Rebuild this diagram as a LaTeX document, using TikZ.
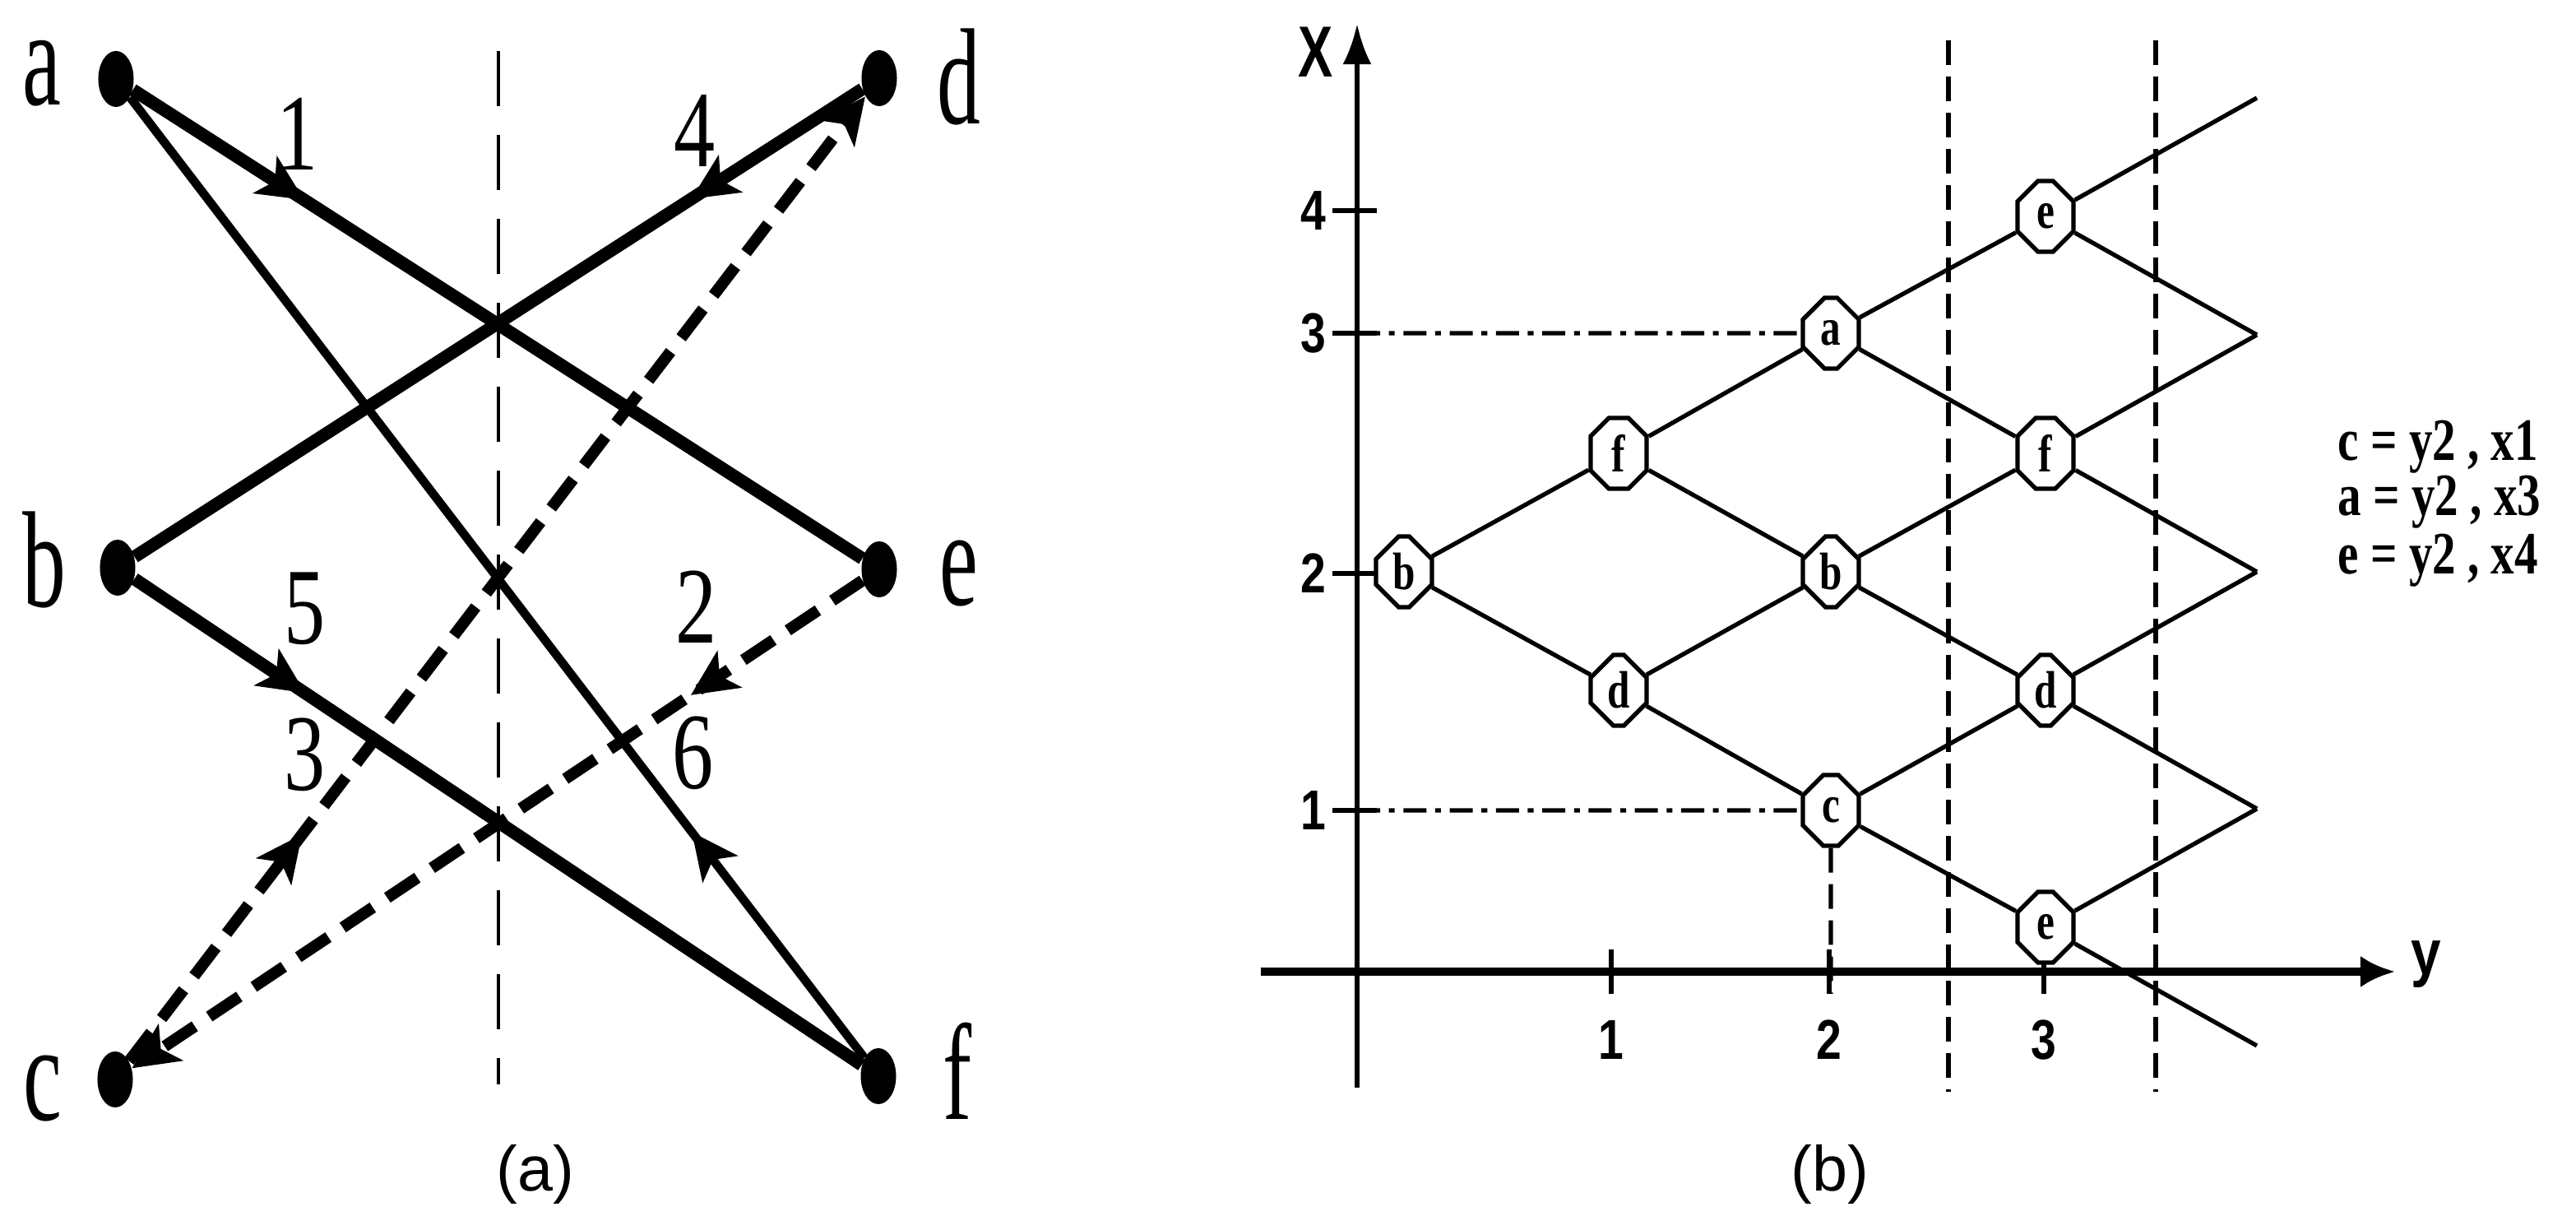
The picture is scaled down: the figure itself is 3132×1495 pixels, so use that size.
\documentclass[tikz,border=0pt]{standalone}
\usepackage{fontspec}
\setmainfont{Liberation Serif}
\newfontfamily\sansfam{Liberation Sans}
\usetikzlibrary{arrows.meta,shapes.geometric,shapes.misc,decorations.markings}
\newcommand\vstretch[2]{\scalebox{1}[#1]{#2}}
\begin{document}
\begin{tikzpicture}[x=0.01cm,y=-0.01cm,
  dot/.style={ellipse,fill=black,inner sep=0pt,minimum width=0.43cm,minimum height=0.68cm},
  letlbl/.style={inner sep=0pt,font=\fontsize{30}{30}\selectfont},
  numlbl/.style={inner sep=0pt,font=\fontsize{28.5}{28.5}\selectfont},
  midarrow/.style={postaction={decorate},decoration={markings,mark=at position #1 with {\arrow{Stealth[length=16pt,width=15pt,inset=4pt]}}}},
  thickedge/.style={line width=4.4pt},
  thinedge/.style={line width=3pt},
  dashedge/.style={line width=4pt,dash pattern=on 12.5pt off 6pt},
  vdash/.style={line width=1.4pt,dash pattern=on 19pt off 10pt},
  cn/.style={draw,line width=1.5pt,fill=white,chamfered rectangle,chamfered rectangle xsep=0.14cm,chamfered rectangle ysep=0.14cm,minimum width=0.68cm,minimum height=0.86cm,inner sep=0pt,font=\bfseries\fontsize{14}{14}\selectfont},
  lattice/.style={line width=1.5pt},
  vdashb/.style={line width=1.5pt,dash pattern=on 8.5pt off 4pt},
  dashdot/.style={line width=1.5pt,dash pattern=on 8pt off 3pt on 2pt off 3pt},
  ticklbl/.style={inner sep=0pt,font=\sansfam\bfseries\fontsize{18.5}{18.5}\selectfont},
  captxt/.style={inner sep=0pt,font=\sansfam\fontsize{22}{22}\selectfont},
  eqlbl/.style={inner sep=0pt,anchor=base west,font=\bfseries\fontsize{20.8}{20.8}\selectfont}
]
\useasboundingbox (0,0) rectangle (3132,1495);
\fill[white] (0,0) rectangle (3132,1495);

% ---------- panel (a) ----------
\coordinate (vtop) at (606,62);
\coordinate (vbot) at (606,1318);
\draw[vdash] (vtop) -- (vbot);

\node[dot] (a) at (141,96) {};
\node[dot] (d) at (1069,95) {};
\node[dot] (b) at (143,690) {};
\node[dot] (e) at (1069,692) {};
\node[dot] (c) at (140,1312) {};
\node[dot] (f) at (1068,1308) {};

\draw[thickedge,midarrow=0.235] (a) -- (e);
\draw[thinedge,midarrow=0.235] (f) -- (a);
\draw[thickedge,midarrow=0.235] (d) -- (b);
\draw[thickedge,midarrow=0.235] (b) -- (f);
\draw[dashedge,midarrow=0.235,-{Stealth[length=16pt,width=15pt,inset=4pt]}] (c) -- (d);
\draw[dashedge,midarrow=0.235,-{Stealth[length=16pt,width=15pt,inset=4pt]}] (e) -- (c);

\node[letlbl] (la) at (51,89) {\vstretch{1.58}{a}};
\node[letlbl] (ld) at (1166,93) {\vstretch{1.58}{d}};
\node[letlbl] (lb) at (54,680) {\vstretch{1.58}{b}};
\node[letlbl] (le) at (1166,697) {\vstretch{1.58}{e}};
\node[letlbl] (lc) at (52,1323) {\vstretch{1.58}{c}};
\node[letlbl] (lf) at (1164,1302) {\vstretch{1.58}{f}};

\node[numlbl] (n1) at (362,163) {\vstretch{1.32}{1}};
\node[numlbl] (n4) at (845,159) {\vstretch{1.32}{4}};
\node[numlbl] (n5) at (371,740) {\vstretch{1.32}{5}};
\node[numlbl] (n2) at (847,738) {\vstretch{1.32}{2}};
\node[numlbl] (n3) at (371,917) {\vstretch{1.32}{3}};
\node[numlbl] (n6) at (843,915) {\vstretch{1.32}{6}};

\node[captxt] (capa) at (651,1427) {(a)};

% ---------- panel (b) ----------
\coordinate (v1t) at (2369,49);
\coordinate (v1b) at (2369,1327);
\coordinate (v2t) at (2621,49);
\coordinate (v2b) at (2621,1327);
\draw[vdashb] (v1t) -- (v1b);
\draw[vdashb] (v2t) -- (v2b);

\coordinate (ybot) at (1650,1322);
\coordinate (ytop) at (1650,29);
\coordinate (xleft) at (1533,1181);
\coordinate (xright) at (2912,1181);
\draw[line width=1.8pt,-{Latex[length=14pt,width=10pt]}] (ybot) -- (ytop);
\draw[line width=2.8pt,-{Latex[length=12pt,width=11pt]}] (xleft) -- (xright);

\node[inner sep=0pt,font=\sansfam\bfseries\fontsize{20}{20}\selectfont] (xl) at (1600,63) {\scalebox{0.9}[1.25]{X}};
\node[inner sep=0pt,font=\sansfam\bfseries\fontsize{22}{22}\selectfont] (yl) at (2950,1172) {\scalebox{0.85}[1]{y}};

% y ticks
\foreach \yy/\tt in {256/4,405/3,697/2,985/1}{
  \draw[line width=1.8pt] (1620,\yy) -- (1674,\yy);
  \node[ticklbl] at (1597,\yy) {\scalebox{0.85}[1.05]{\tt}};
}
% x ticks
\foreach \xx/\tt in {1959/1,2224/2,2485/3}{
  \draw[line width=1.5pt] (\xx,1154) -- (\xx,1208);
  \node[ticklbl] at (\xx,1264) {\scalebox{0.85}[1.05]{\tt}};
}

\coordinate (r1) at (2744,119);
\coordinate (r2) at (2744,407);
\coordinate (r3) at (2744,695);
\coordinate (r4) at (2744,983);
\coordinate (r5) at (2744,1271);

\node[cn] (nb0) at (1707,695) {\vstretch{1.3}{b}};
\node[cn] (nf1) at (1968,551) {\vstretch{1.3}{f}};
\node[cn] (nd1) at (1968,839) {\vstretch{1.3}{d}};
\node[cn] (na2) at (2226,405) {\vstretch{1.3}{a}};
\node[cn] (nb2) at (2226,695) {\vstretch{1.3}{b}};
\node[cn] (nc2) at (2226,985) {\vstretch{1.3}{c}};
\node[cn] (ne3) at (2487,263) {\vstretch{1.3}{e}};
\node[cn] (nf3) at (2487,551) {\vstretch{1.3}{f}};
\node[cn] (nd3) at (2487,839) {\vstretch{1.3}{d}};
\node[cn] (ne4) at (2487,1127) {\vstretch{1.3}{e}};

\draw[lattice] (nb0) -- (nf1) -- (na2) -- (ne3) -- (r1);
\draw[lattice] (nd1) -- (nb2) -- (nf3) -- (r2);
\draw[lattice] (nc2) -- (nd3) -- (r3);
\draw[lattice] (ne4) -- (r4);
\draw[lattice] (nb0) -- (nd1) -- (nc2) -- (ne4) -- (r5);
\draw[lattice] (nf1) -- (nb2) -- (nd3) -- (r4);
\draw[lattice] (na2) -- (nf3) -- (r3);
\draw[lattice] (ne3) -- (r2);

\coordinate (y3) at (1650,405);
\coordinate (y1) at (1650,985);
\coordinate (x2) at (2226,1208);
\draw[dashdot] (y3) -- (na2);
\draw[dashdot] (y1) -- (nc2);
\draw[vdashb] (nc2) -- (x2);

\node[eqlbl] (eq1) at (2842,560) {\scalebox{0.78}[1]{c = y2 , x1}};
\node[eqlbl] (eq2) at (2842,627) {\scalebox{0.78}[1]{a = y2 , x3}};
\node[eqlbl] (eq3) at (2842,698) {\scalebox{0.78}[1]{e = y2 , x4}};

\node[captxt] (capb) at (2225,1427) {(b)};
\end{tikzpicture}
\end{document}
